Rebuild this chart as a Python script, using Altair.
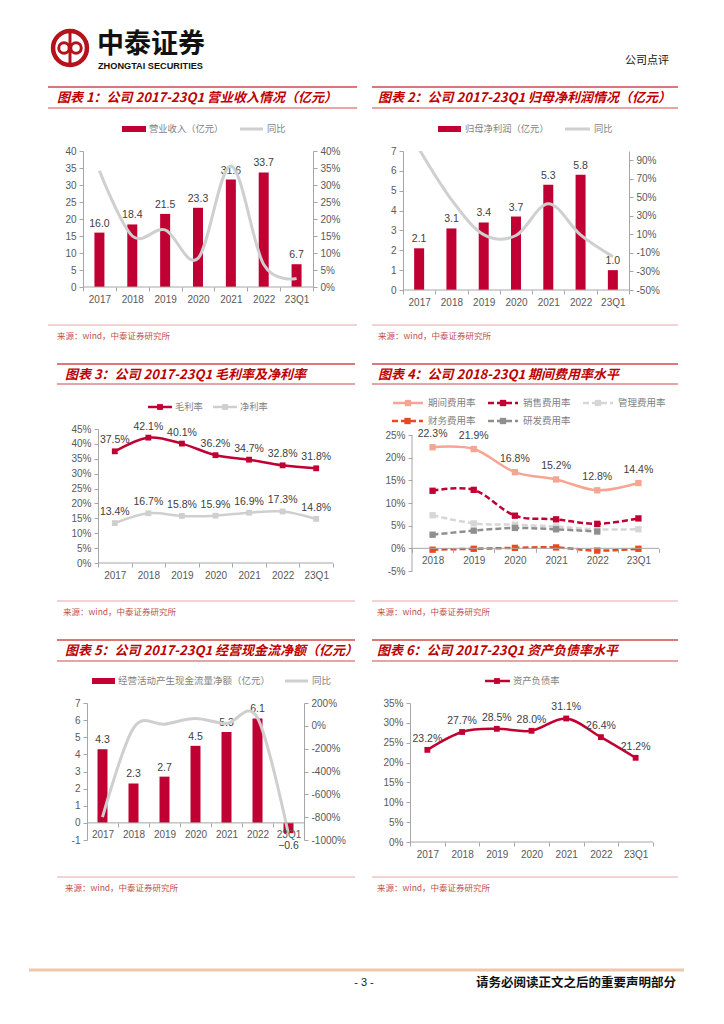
import altair as alt
import pandas as pd

# ---------------- data ----------------
cats7 = ["2017", "2018", "2019", "2020", "2021", "2022", "23Q1"]
cats6 = ["2018", "2019", "2020", "2021", "2022", "23Q1"]

revenue = [16.0, 18.4, 21.5, 23.3, 31.6, 33.7, 6.7]
revenue_yoy = [34.2, 15.0, 16.8, 8.4, 35.6, 6.6, 2.5]

profit = [2.1, 3.1, 3.4, 3.7, 5.3, 5.8, 1.0]
profit_yoy = [102.0, 47.6, 9.7, 8.8, 43.2, 9.4, -14.0]

gross_margin = [37.5, 42.1, 40.1, 36.2, 34.7, 32.8, 31.8]
net_margin = [13.4, 16.7, 15.8, 15.9, 16.9, 17.3, 14.8]

period_rate = [22.3, 21.9, 16.8, 15.2, 12.8, 14.4]
sales_rate = [12.7, 12.9, 7.2, 6.4, 5.4, 6.6]
admin_rate = [7.3, 5.5, 5.2, 4.8, 4.2, 4.2]
fin_rate = [-0.3, -0.1, 0.1, 0.2, -0.5, -0.1]
rd_rate = [3.0, 3.9, 4.5, 4.2, 3.7, None]

cash_flow = [4.3, 2.3, 2.7, 4.5, 5.3, 6.1, -0.6]
cash_flow_yoy = [-800, -20, 14, 64, 20, 69, -950]

debt_ratio = [23.2, 27.7, 28.5, 28.0, 31.1, 26.4, 21.2]

# ---------------- styles ----------------
RED = "#C00032"
TITLE_RED = "#C00000"
RULE_RED = "#D24B4B"
SRC_LINE = "#E6A8A8"
SRC_TEXT = "#C0504D"
LGRAY = "#CFCFCF"
AX = "#A6A6A6"
LBL = "#595959"
DLBL = "#404040"
LEG = "#7F7F7F"
FONT = "Liberation Sans"
CJK = "Noto Sans CJK SC"

ONE = pd.DataFrame({"k": [0]})


class Panel:
    def __init__(self, ox, oy):
        self.ox, self.oy = ox, oy
        self.items = []

    def text(self, x, y, s, size=9.3, color=LEG, font=CJK, weight="normal",
             style="normal", align="left", baseline="middle"):
        self.items.append(
            alt.Chart(ONE).mark_text(text=s, align=align, baseline=baseline, fontSize=size,
                                     color=color, font=font, fontWeight=weight, fontStyle=style)
            .encode(x=alt.value(x - self.ox), y=alt.value(y - self.oy)))

    def hline(self, x0, x1, y, color, width=1.0, dash=None):
        kw = dict(color=color, strokeWidth=width)
        if dash:
            kw["strokeDash"] = dash
        self.items.append(
            alt.Chart(ONE).mark_rule(**kw)
            .encode(x=alt.value(x0 - self.ox), x2=alt.value(x1 - self.ox), y=alt.value(y - self.oy)))

    def vline(self, x, y0, y1, color, width=1.0):
        self.items.append(
            alt.Chart(ONE).mark_rule(color=color, strokeWidth=width)
            .encode(x=alt.value(x - self.ox), y=alt.value(y0 - self.oy), y2=alt.value(y1 - self.oy)))

    def rect(self, x0, x1, y0, y1, color, opacity=1.0):
        self.items.append(
            alt.Chart(ONE).mark_rect(color=color, opacity=opacity)
            .encode(x=alt.value(x0 - self.ox), x2=alt.value(x1 - self.ox),
                    y=alt.value(y0 - self.oy), y2=alt.value(y1 - self.oy)))

    def square(self, x, y, color, size=34):
        self.items.append(
            alt.Chart(ONE).mark_point(shape="square", filled=True, size=size, color=color, opacity=1)
            .encode(x=alt.value(x - self.ox), y=alt.value(y - self.oy)))

    def ring(self, x, y, size, color, width):
        self.items.append(
            alt.Chart(ONE).mark_point(shape="circle", filled=False, size=size, color=color,
                                      strokeWidth=width, opacity=1)
            .encode(x=alt.value(x - self.ox), y=alt.value(y - self.oy)))

    def anchor(self, x0, x1, y0, y1):
        self.rect(x0, x1, y0, y1, "white", opacity=0)

    def frame(self, left, right, top_line, bottom_line, title, title_x, src_line, src_x):
        self.hline(left, right, top_line, RULE_RED, 1.6)
        self.hline(left, right, bottom_line, RULE_RED, 1.2)
        self.text(title_x, (top_line + bottom_line) / 2 + 0.5, title, size=13, color=TITLE_RED,
                  weight="bold", style="italic")
        self.hline(left, right, src_line, SRC_LINE, 1.0)
        self.text(src_x, src_line + 10.5, "来源：wind，中泰证券研究所", size=8.5, color=SRC_TEXT)


def x_axis(offset=0):
    kw = dict(title=None, labelAngle=0, tickBand="extent", tickSize=4, labelPadding=3,
              domain=False, tickColor=AX, labelColor=LBL, labelFont=FONT, labelFontSize=10,
              grid=False, zindex=1, labelOverlap=False)
    if offset:
        kw["offset"] = offset
    return alt.Axis(**kw)


def y_axis(vals, orient="left", pct=False, offset=0, domain=True):
    kw = dict(title=None, values=vals, orient=orient, tickSize=4, labelPadding=3,
              domain=domain, domainColor=AX, tickColor=AX, labelColor=LBL, labelFont=FONT,
              labelFontSize=10, grid=False,
              labelExpr=("datum.value + '%'" if pct else "datum.value"))
    if offset:
        kw["offset"] = offset
    return alt.Axis(**kw)


def xenc(cats, w, lead=0, offset=0):
    # categories occupy the rightmost (w - lead) pixels of the plot
    n = len(cats)
    step = (w - lead) / n
    po = (w / step - n) / 2
    return alt.X("cat:N", sort=cats,
                 scale=alt.Scale(type="band", paddingInner=0, paddingOuter=po, align=1, round=False),
                 axis=x_axis(offset))


def bar_line(p, cats, bars, yoy, w, h, ldom, lvals, rdom, rvals, lead=0, zero_y=None, clip=False):
    df = pd.DataFrame({"cat": cats, "v": bars, "g": yoy})
    xoff = -(h - zero_y) if zero_y is not None else 0
    xe = xenc(cats, w, lead, xoff)
    ye = alt.Y("v:Q", scale=alt.Scale(domain=ldom, nice=False),
               axis=y_axis(lvals, "left", offset=-lead))
    b = alt.Chart(df).mark_bar(size=10, color=RED).encode(x=xe, y=ye)
    lp = (alt.Chart(df).transform_filter("datum.v >= 0")
          .mark_text(baseline="bottom", dy=-4, fontSize=10.5, font=FONT, color=DLBL)
          .encode(x=xe, y=ye, text=alt.Text("v:Q", format=".1f")))
    ln = (alt.Chart(df).transform_filter("datum.v < 0")
          .mark_text(baseline="top", dy=8, fontSize=10.5, font=FONT, color=DLBL)
          .encode(x=xe, y=ye, text=alt.Text("v:Q", format=".1f")))
    left = alt.layer(b, lp, ln)
    line = (alt.Chart(df).mark_line(interpolate="cardinal", color=LGRAY, strokeWidth=3, clip=clip)
            .encode(x=xe, y=alt.Y("g:Q", scale=alt.Scale(domain=rdom, nice=False, zero=False),
                                  axis=y_axis(rvals, "right", pct=True))))
    base_y = zero_y if zero_y is not None else h
    p.items.append(alt.Chart(ONE).mark_rule(color=AX, strokeWidth=1)
                   .encode(x=alt.value(lead), x2=alt.value(w), y=alt.value(base_y)))
    return (alt.layer(left, line, *p.items).resolve_scale(y="independent")
            .properties(width=w, height=h))


def series(cats, vals, ye, xe, color, dash=None, width=2.5, labels=False, dy=-6, msize=34):
    df = pd.DataFrame({"cat": cats, "v": vals}).dropna()
    base = alt.Chart(df).encode(x=xe, y=ye)
    kw = dict(interpolate="cardinal", color=color, strokeWidth=width)
    if dash:
        kw["strokeDash"] = dash
    out = [base.mark_line(**kw),
           base.mark_point(shape="square", filled=True, size=msize, color=color, opacity=1)]
    if labels:
        out.append(base.transform_calculate(lbl="format(datum.v, '.1f') + '%'")
                   .mark_text(baseline="bottom", dy=dy, fontSize=10.5, font=FONT, color=DLBL)
                   .encode(text="lbl:N"))
    return out


LX, RX = 83, 403           # column plot origins
R1, R2, R3 = 151, 429, 703  # row plot origins

# ---------------- chart 1 ----------------
p1 = Panel(LX, R1)
p1.anchor(8, 366, 8, 352)
p1.ring(70, 48, 1150, "#B5121B", 4.5)
p1.vline(70, 31, 65, "#B5121B", 3)
p1.ring(64, 48, 110, "#B5121B", 3)
p1.ring(76, 48, 110, "#B5121B", 3)
p1.text(97, 45, "中泰证券", size=27, color="#111111", weight="bold")
p1.text(98, 65.5, "ZHONGTAI SECURITIES", size=9.2, color="#111111", font=FONT, weight="bold")
p1.frame(48, 357, 87, 108, "图表 1：公司 2017-23Q1 营业收入情况（亿元）", 57, 325, 57)
p1.rect(122, 146, 126, 132, RED)
p1.text(149, 129, "营业收入（亿元）")
p1.hline(240, 263, 129, LGRAY, 3)
p1.text(267, 129, "同比")
c1 = bar_line(p1, cats7, revenue, revenue_yoy, 230, 136, [0, 40], list(range(0, 41, 5)),
              [0, 40], list(range(0, 41, 5)))

# ---------------- chart 2 ----------------
p2 = Panel(RX, R1)
p2.anchor(366, 712, 8, 352)
p2.text(625, 61, "公司点评", size=11, color="#111111")
p2.frame(372, 678, 87, 108, "图表 2：公司 2017-23Q1 归母净利润情况（亿元）", 378, 325, 378)
p2.rect(438, 461, 126, 132, RED)
p2.text(465, 129, "归母净利润（亿元）")
p2.hline(565, 590, 129, LGRAY, 3)
p2.text(594, 129, "同比")
c2 = bar_line(p2, cats7, profit, profit_yoy, 226, 139, [0, 7], list(range(0, 8)),
              [-50, 100], list(range(-50, 91, 20)), clip=True)

# ---------------- chart 3 ----------------
p3 = Panel(LX, R2)
p3.anchor(8, 366, 352, 628)
p3.frame(57, 355, 364, 384, "图表 3：公司 2017-23Q1 毛利率及净利率", 65, 601, 63)
p3.hline(148, 172, 407, RED, 2.5)
p3.square(160, 407, RED)
p3.text(175, 407, "毛利率")
p3.hline(213, 237, 407, LGRAY, 2.5)
p3.square(225, 407, LGRAY)
p3.text(240, 407, "净利率")
w3, h3, lead3 = 250, 134, 15
xe3 = xenc(cats7, w3, lead3)
ye3 = alt.Y("v:Q", scale=alt.Scale(domain=[0, 45], nice=False),
            axis=y_axis(list(range(0, 46, 5)), "left", pct=True, offset=-lead3))
p3.items.append(alt.Chart(ONE).mark_rule(color=AX)
                .encode(x=alt.value(lead3), x2=alt.value(w3), y=alt.value(h3)))
c3 = alt.layer(
    *series(cats7, gross_margin, ye3, xe3, RED, labels=True),
    *series(cats7, net_margin, ye3, xe3, LGRAY, labels=True),
    *p3.items).properties(width=w3, height=h3)

# ---------------- chart 4 ----------------
p4 = Panel(RX, R2)
p4.anchor(366, 712, 352, 628)
p4.frame(372, 678, 364, 384, "图表 4：公司 2018-23Q1 期间费用率水平", 378, 601, 377)
SALMON = "#F7A593"
ORANGE = "#E8491D"
DGRAY = "#8F8F8F"
MGRAY = "#D6D6D6"
DASH = [6, 3]
leg4 = [(393, 423, 403, "期间费用率", SALMON, None),
        (488, 518, 403, "销售费用率", RED, DASH),
        (583, 613, 403, "管理费用率", MGRAY, DASH),
        (392, 423, 421, "财务费用率", ORANGE, DASH),
        (488, 518, 421, "研发费用率", DGRAY, DASH)]
for x0, x1, yy, name, col, dsh in leg4:
    p4.hline(x0, x1, yy, col, 2.5, dsh)
    p4.square((x0 + x1) / 2, yy, col, 40)
    p4.text(x1 + 5, yy, name, size=9.5)
w4, lead4 = 256, 9
px_per = 136 / 30.0                 # pixels per percentage point
h4 = 142                            # plot starts 6px above the 25% tick
top4 = 25 + 6 / px_per
zero4 = top4 * px_per               # pixel row of 0%
xe4 = xenc(cats6, w4, lead4, offset=-(h4 - zero4))
sc4 = alt.Scale(domain=[-5, top4], nice=False, zero=False)
ax4 = y_axis(list(range(-5, 26, 5)), "left", pct=True, offset=-lead4, domain=False)
ye4 = alt.Y("v:Q", scale=sc4, axis=ax4)
yaxis_line4 = (alt.Chart(pd.DataFrame({"v": [-5], "v2": [25]})).mark_rule(color=AX)
               .encode(x=alt.value(lead4), y=alt.Y("v:Q", scale=sc4, axis=ax4), y2="v2:Q"))
p4.items.append(alt.Chart(ONE).mark_rule(color=AX)
                .encode(x=alt.value(lead4), x2=alt.value(w4), y=alt.value(zero4)))
c4 = alt.layer(
    yaxis_line4,
    *series(cats6, admin_rate, ye4, xe4, MGRAY, DASH, msize=40),
    *series(cats6, rd_rate, ye4, xe4, DGRAY, DASH, msize=40),
    *series(cats6, fin_rate, ye4, xe4, ORANGE, DASH, msize=40),
    *series(cats6, sales_rate, ye4, xe4, RED, DASH, msize=40),
    *series(cats6, period_rate, ye4, xe4, SALMON, labels=True, dy=-8, msize=40),
    *p4.items).properties(width=w4, height=h4)

# ---------------- chart 5 ----------------
p5 = Panel(LX, R3)
p5.anchor(8, 366, 628, 930)
p5.frame(57, 355, 640, 661, "图表 5：公司 2017-23Q1 经营现金流净额（亿元）", 65, 877, 65)
p5.rect(92, 115, 678, 684, RED)
p5.text(118, 681, "经营活动产生现金流量净额（亿元）", size=9.5)
p5.hline(285, 308, 681, LGRAY, 3)
p5.text(312, 681, "同比", size=9.5)
h5 = 137
c5 = bar_line(p5, cats7, cash_flow, cash_flow_yoy, 221, h5, [-1, 7], list(range(-1, 8)),
              [-1000, 200], list(range(-1000, 201, 200)), lead=4, zero_y=h5 * 7 / 8)

# ---------------- chart 6 ----------------
p6 = Panel(RX, R3)
p6.anchor(366, 712, 628, 930)
p6.frame(372, 678, 640, 661, "图表 6：公司 2017-23Q1 资产负债率水平", 377, 877, 377)
p6.hline(485, 510, 681, RED, 2.5)
p6.square(497, 681, RED)
p6.text(513, 681, "资产负债率")
w6, h6, lead6 = 250, 139, 7
xe6 = xenc(cats7, w6, lead6)
ye6 = alt.Y("v:Q", scale=alt.Scale(domain=[0, 35], nice=False),
            axis=y_axis(list(range(0, 36, 5)), "left", pct=True, offset=-lead6))
p6.items.append(alt.Chart(ONE).mark_rule(color=AX)
                .encode(x=alt.value(lead6), x2=alt.value(w6), y=alt.value(h6)))
c6 = alt.layer(*series(cats7, debt_ratio, ye6, xe6, RED, labels=True),
               *p6.items).properties(width=w6, height=h6)

# ---------------- footer ----------------
pf = Panel(LX, 930)
pf.anchor(8, 712, 930, 1000)
pf.hline(29, 684, 970, "#F0C6AE", 3)
pf.text(364, 983, "- 3 -", size=11, color="#222222", font=FONT, align="center")
pf.text(676, 983, "请务必阅读正文之后的重要声明部分", size=12.5, color="#111111",
        weight="bold", align="right")
footer = alt.layer(*pf.items).properties(width=10, height=10)

grid = alt.concat(c1, c2, c3, c4, c5, c6, columns=2, spacing=0, bounds="full", align="each")
chart = (alt.vconcat(grid, footer, spacing=0, bounds="full")
         .properties(padding=0, background="white")
         .configure_view(stroke=None))

chart.save("out.html", embed_options={"renderer": "svg", "actions": False})
